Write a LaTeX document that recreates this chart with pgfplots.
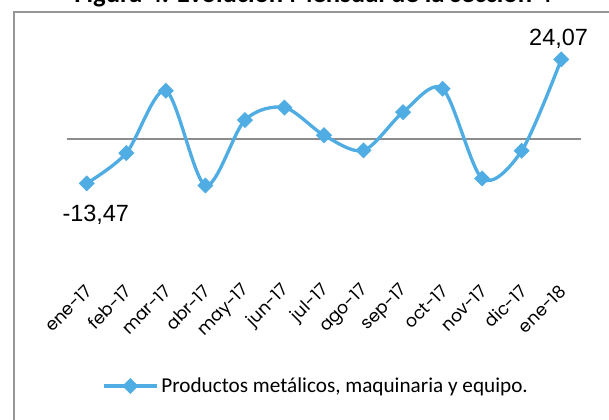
\documentclass[border=0pt]{standalone}
\usepackage{fontspec}
\setmainfont{Carlito}
\newfontfamily\gothic{Poppins}
\newfontfamily\arial{Liberation Sans}
\usepackage{pgfplots}
\pgfplotsset{compat=1.18}
\definecolor{serie}{RGB}{80,173,227}
\definecolor{framec}{RGB}{150,150,150}
\definecolor{zeroc}{RGB}{140,140,140}
\begin{document}
\begin{tikzpicture}[x=0.75pt,y=0.75pt]
\useasboundingbox (0,0) rectangle (609,419);
\draw[framec, line width=1.5pt] (14,-5) -- (14,407) -- (615,407);
\node[anchor=base, font=\bfseries\fontsize{20}{24}\selectfont] at (313,416.5) {Figura 4. Evolución Mensual de la sección 4};
\begin{axis}[
  at={(50.25pt,98.25pt)}, anchor=south west,
  scale only axis, width=385.5pt, height=193.5pt,
  xmin=-0.5, xmax=12.5, ymin=-45.2, ymax=33,
  axis line style={draw=none}, ytick=\empty,
  xtick={0,...,12},
  xticklabels={ene-17,feb-17,mar-17,abr-17,may-17,jun-17,jul-17,ago-17,sep-17,oct-17,nov-17,dic-17,ene-18},
  major tick length=0pt,
  xticklabel style={rotate=45, anchor=east, font=\gothic\fontsize{13}{15}\selectfont, inner sep=1pt, xshift=2pt, yshift=-1pt},
  clip=false,
  legend style={at={(0.485,-0.380)}, anchor=center, draw=none, fill=none, font=\fontsize{15.9}{18}\selectfont},
  legend cell align=left,
  legend image code/.code={\draw[#1, mark repeat=2, mark phase=2] plot coordinates {(0pt,0pt) (20pt,0pt) (40pt,0pt)};},
]
\addplot[zeroc, line width=1.5pt, forget plot] coordinates {(-0.5,0) (12.5,0)};
\addplot[serie, line width=2.5pt, smooth, tension=0.5, mark=square*, mark size=3pt, mark options={rotate=45, solid, fill=serie}] coordinates {
(0,-13.47) (1,-4.3) (2,14.6) (3,-14.1) (4,5.7) (5,9.5) (6,1.1) (7,-3.5) (8,8.1) (9,15.2) (10,-12.0) (11,-3.6) (12,24.07)};
\addlegendentry{Productos metálicos, maquinaria y equipo.}
\node[anchor=base, font=\arial\fontsize{17.6}{20}\selectfont, xshift=-2pt, yshift=10.2pt] at (axis cs:12,24.07) {24,07};
\node[anchor=base, font=\arial\fontsize{17.6}{20}\selectfont, xshift=6.75pt, yshift=-28.9pt] at (axis cs:0,-13.47) {-13,47};
\end{axis}
\end{tikzpicture}
\end{document}
